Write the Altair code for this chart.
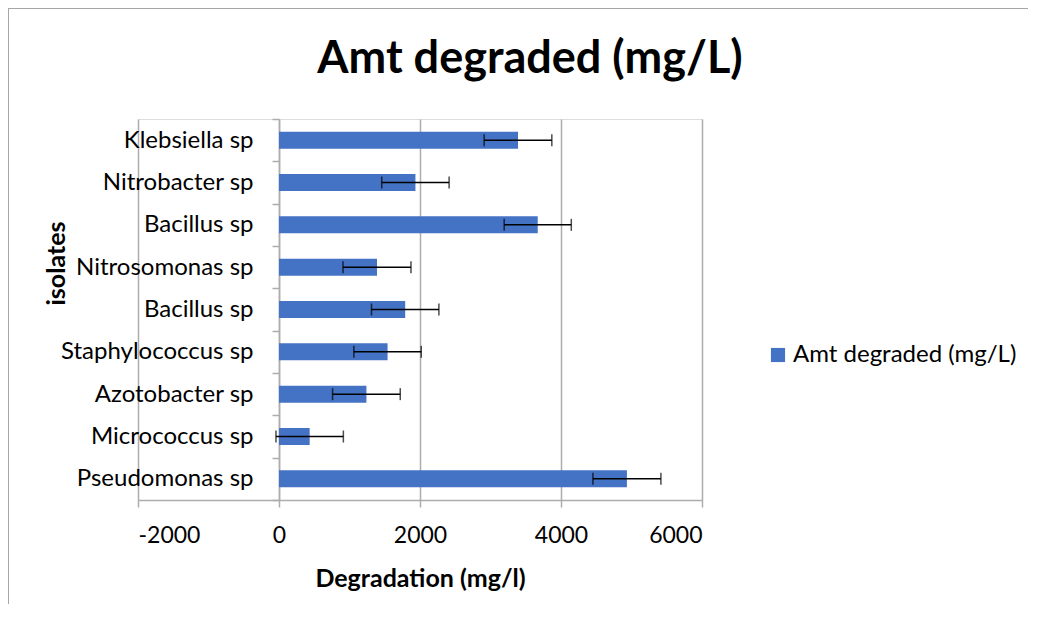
import json
import altair as alt
import pandas as pd

# ---- data (top-to-bottom order as drawn) ----
isolates = ["Klebsiella sp", "Nitrobacter sp", "Bacillus sp", "Nitrosomonas sp",
            "Bacillus sp", "Staphylococcus sp", "Azotobacter sp", "Micrococcus sp",
            "Pseudomonas sp"]
degraded = [3390, 1935, 3670, 1390, 1790, 1540, 1240, 435, 4935]
errors = [480, 478, 476, 482, 478, 478, 480, 478, 482]
x_ticks = [-2000, 0, 2000, 4000, 6000]
series_name = "Amt degraded (mg/L)"

df = pd.DataFrame({
    "row": [str(i) for i in range(len(isolates))],
    "isolate": isolates,
    "value": degraded,
    "err": errors,
})
df["lo"] = df["value"] - df["err"]
df["hi"] = df["value"] + df["err"]
df["series"] = series_name

FONT = "Lato"
GRID = "#ADADAD"
W, H = 564, 381

label_expr = json.dumps(isolates) + "[toNumber(datum.value)]"

xscale = alt.Scale(domain=[x_ticks[0], x_ticks[-1]], nice=False, zero=False)
yscale = alt.Scale(paddingInner=0, paddingOuter=0)

x_axis = alt.Axis(
    values=x_ticks, labelExpr="'' + datum.value", grid=True, gridColor=GRID,
    gridWidth=1.5, domainColor=GRID, domainWidth=1.5, tickColor=GRID,
    tickWidth=1.5, tickSize=7,
    labelFont=FONT, labelFontSize=23, labelColor="black", labelPadding=17,
    title="Degradation (mg/l)", titleFont=FONT, titleFontSize=25,
    titleFontWeight="bold", titleColor="black", titlePadding=19,
)
y_axis = alt.Axis(
    offset=-141, labelExpr=label_expr, tickBand="extent", grid=False,
    domainColor=GRID, domainWidth=1.5, tickColor=GRID, tickWidth=1.5, tickSize=7,
    labelFont=FONT, labelFontSize=24, labelColor="black", labelPadding=19,
    labelLimit=0,
    title="isolates", titleFont=FONT, titleFontSize=25, titleFontWeight="bold",
    titleColor="black", titleAngle=-90, titleX=-223, titleY=144,
    titleAlign="center", titleBaseline="middle",
)

base = alt.Chart(df)

bars = base.mark_bar(size=17).encode(
    x=alt.X("value:Q", scale=xscale, axis=x_axis),
    y=alt.Y("row:N", sort=None, scale=yscale, axis=y_axis),
    color=alt.Color(
        "series:N",
        scale=alt.Scale(range=["#4472C4"]),
        legend=alt.Legend(
            orient="none", legendX=628, legendY=224, title=None,
            symbolType="square", symbolSize=200, symbolStrokeWidth=0,
            labelFont=FONT, labelFontSize=24, labelColor="black", labelOffset=3,
            labelLimit=0,
        ),
    ),
)

err_rule = base.mark_rule(color="black", strokeWidth=1.5).encode(
    x="lo:Q", x2="hi:Q", y=alt.Y("row:N", sort=None)
)

caps = base.transform_fold(["lo", "hi"], as_=["end", "pos"]).mark_tick(
    color="black", size=12, thickness=1.5
).encode(x="pos:Q", y=alt.Y("row:N", sort=None))

border = base.mark_rect(fill=None, stroke="#A6A6A6", strokeWidth=1.5).encode(
    x=alt.value(-130), x2=alt.value(1000), y=alt.value(-111), y2=alt.value(700)
)

chart = alt.layer(border, bars, err_rule, caps).properties(
    width=W, height=H,
    title=alt.Title(series_name, font=FONT, fontSize=45, fontWeight="bold",
                    color="black", anchor="middle", dx=110, dy=111, offset=0,
                    baseline="alphabetic"),
    autosize=alt.AutoSizeParams(type="none"),
    padding={"left": 130, "top": 111, "right": 326, "bottom": 104},
).configure_view(stroke=None).configure(background="white")

chart.save("out.html", embed_options={"renderer": "svg", "actions": False})
